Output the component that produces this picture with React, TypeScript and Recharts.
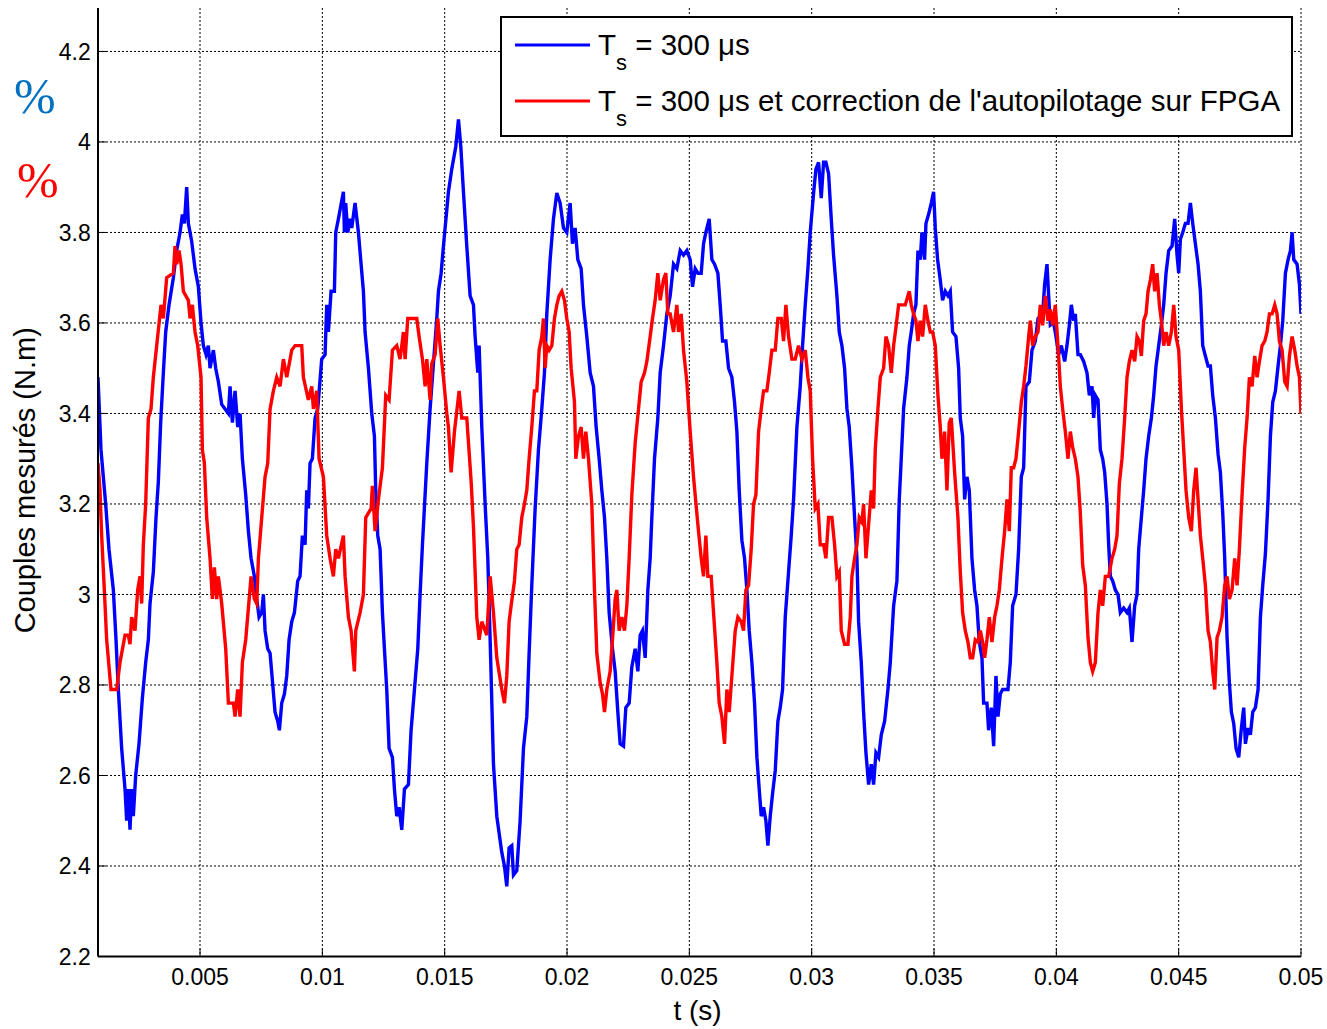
import React from 'react';
import { LineChart, Line, XAxis, YAxis, CartesianGrid, Legend, Label } from 'recharts';

const xTicks = [0.005, 0.01, 0.015, 0.02, 0.025, 0.03, 0.035, 0.04, 0.045, 0.05];
const yTicks = [2.2, 2.4, 2.6, 2.8, 3, 3.2, 3.4, 3.6, 3.8, 4, 4.2];
const xDomain: [number, number] = [0.00083, 0.05];
const yDomain: [number, number] = [2.2, 4.296];

const seriesNames = ['T_s = 300 μs', "T_s = 300 μs et correction de l'autopilotage sur FPGA"];
const seriesColors = ['#0000FF', '#FF0000'];

const xLabel = 't (s)';
const yLabel = 'Couples mesurés (N.m)';

// [time (s), torque (N.m)]
const blueSamples: [number, number][] = [
  [0.00083,3.48],[0.000952,3.32],[0.001143,3.2],[0.001279,3.1],[0.001457,3.01],[0.001566,2.9],[0.001661,2.79],[0.001797,2.66],[0.001934,2.57],[0.002002,2.5],[0.00207,2.57],[0.002138,2.48],[0.002206,2.57],[0.002274,2.51],[0.00237,2.6],[0.002506,2.67],[0.002642,2.77],[0.002779,2.85],[0.002888,2.9],[0.002956,2.98],[0.003092,3.05],[0.003201,3.17],[0.003297,3.25],[0.003392,3.38],[0.003501,3.49],[0.003597,3.58],[0.003733,3.64],[0.00391,3.7],[0.004046,3.76],[0.004183,3.8],[0.004278,3.84],[0.00436,3.82],[0.004455,3.9],[0.004523,3.82],[0.00466,3.78],[0.004796,3.72],[0.004932,3.68],[0.005041,3.6],[0.005137,3.55],[0.005246,3.53],[0.005341,3.55],[0.005409,3.5],[0.005546,3.54],[0.005641,3.5],[0.00575,3.47],[0.005886,3.42],[0.006023,3.41],[0.006159,3.4],[0.006227,3.46],[0.006323,3.38],[0.006432,3.45],[0.006541,3.37],[0.006636,3.4],[0.006731,3.3],[0.006868,3.22],[0.006977,3.14],[0.007086,3.08],[0.007222,3.04],[0.007318,2.99],[0.007413,2.95],[0.007522,2.96],[0.00759,3.0],[0.007658,2.92],[0.007767,2.88],[0.007863,2.87],[0.007958,2.81],[0.008067,2.74],[0.008176,2.72],[0.008244,2.7],[0.00834,2.76],[0.008449,2.78],[0.008544,2.82],[0.00864,2.9],[0.008749,2.94],[0.008858,2.96],
  [0.008993,3.03],[0.009088,3.04],[0.009184,3.13],[0.009293,3.11],[0.009361,3.23],[0.009429,3.19],[0.009497,3.29],[0.009593,3.3],[0.009702,3.39],[0.009811,3.41],[0.009974,3.52],[0.010111,3.53],[0.010179,3.64],[0.010247,3.58],[0.010356,3.67],[0.010492,3.67],[0.010547,3.8],[0.010656,3.83],[0.01086,3.89],[0.010901,3.8],[0.010956,3.865],[0.011038,3.8],[0.011133,3.83],[0.011201,3.81],[0.011337,3.865],[0.011474,3.8],[0.011583,3.73],[0.011678,3.67],[0.011746,3.58],[0.011883,3.5],[0.012019,3.4],[0.012128,3.35],[0.012182,3.23],[0.012264,3.13],[0.01236,3.1],[0.012455,2.96],[0.012537,2.88],[0.012632,2.79],[0.012728,2.66],[0.012864,2.64],[0.012946,2.57],[0.013041,2.51],[0.013137,2.53],[0.013246,2.48],[0.013355,2.57],[0.013518,2.58],[0.013627,2.7],[0.013764,2.79],[0.0139,2.88],[0.013995,3.0],[0.014091,3.11],[0.014268,3.29],[0.014404,3.41],[0.014677,3.61],[0.014745,3.67],[0.014854,3.71],[0.014949,3.77],[0.015018,3.81],[0.015154,3.89],[0.01529,3.94],[0.015454,3.99],[0.015563,4.05],[0.015658,3.99],[0.015767,3.89],[0.015903,3.77],[0.01604,3.66],[0.016176,3.64],[0.016244,3.57],[0.016353,3.49],[0.016408,3.55],[0.016517,3.37],[0.016653,3.2],[0.016762,3.08],[0.016858,2.9],[0.016994,2.625],[0.01713,2.51],
  [0.017334,2.43],[0.017443,2.4],[0.017538,2.355],[0.017633,2.44],[0.017743,2.445],[0.017811,2.38],[0.017947,2.39],[0.018083,2.5],[0.01822,2.66],[0.018356,2.73],[0.018451,2.87],[0.01856,3.02],[0.018697,3.19],[0.018833,3.32],[0.018969,3.41],[0.019078,3.49],[0.019174,3.62],[0.01931,3.74],[0.019446,3.83],[0.019583,3.887],[0.019719,3.865],[0.019855,3.81],[0.019991,3.8],[0.020128,3.865],[0.020223,3.775],[0.020332,3.81],[0.020441,3.74],[0.020578,3.72],[0.020673,3.64],[0.020809,3.57],[0.020946,3.49],[0.021082,3.46],[0.021191,3.37],[0.021314,3.3],[0.021423,3.23],[0.021532,3.17],[0.021627,3.08],[0.021722,2.96],[0.021859,2.88],[0.021968,2.83],[0.022077,2.74],[0.022172,2.67],[0.022309,2.665],[0.022404,2.75],[0.02254,2.76],[0.022649,2.84],[0.022786,2.88],[0.022895,2.83],[0.02299,2.91],[0.023085,2.92],[0.023195,2.86],[0.023304,3.01],[0.023399,3.08],[0.023467,3.17],[0.023576,3.3],[0.023712,3.39],[0.023808,3.49],[0.023944,3.55],[0.02408,3.62],[0.024217,3.66],[0.024353,3.73],[0.024489,3.72],[0.024626,3.76],[0.024762,3.75],[0.024898,3.76],[0.025035,3.74],[0.02513,3.68],[0.025239,3.72],
  [0.025348,3.71],[0.025484,3.71],[0.02558,3.775],[0.025675,3.8],[0.025811,3.83],[0.025921,3.74],[0.02603,3.73],[0.026166,3.71],[0.026261,3.64],[0.026357,3.56],[0.026493,3.56],[0.026602,3.5],[0.026738,3.48],[0.026847,3.425],[0.026943,3.36],[0.027038,3.23],[0.027147,3.12],[0.027256,3.08],[0.027352,3.01],[0.027447,2.92],[0.027556,2.85],[0.027665,2.76],[0.027761,2.64],[0.027856,2.57],[0.027938,2.51],[0.028033,2.53],[0.028129,2.5],[0.02821,2.445],[0.028306,2.51],[0.028401,2.56],[0.02851,2.61],[0.028619,2.72],[0.028715,2.75],[0.02881,2.79],[0.028919,2.95],[0.029055,3.05],[0.029164,3.13],[0.02926,3.21],[0.029396,3.37],[0.029532,3.46],[0.029628,3.55],[0.029737,3.64],[0.029846,3.72],[0.029941,3.8],[0.030078,3.887],[0.030173,3.94],[0.030282,3.955],[0.030391,3.876],[0.030487,3.955],[0.030582,3.955],[0.030691,3.93],[0.0308,3.83],[0.030895,3.75],[0.031032,3.66],[0.031127,3.58],[0.031236,3.55],[0.031345,3.5],[0.031441,3.41],[0.031536,3.37],[0.031645,3.28],[0.031754,3.17],[0.03185,3.08],[0.031918,2.94],[0.032027,2.85],[0.032122,2.74],[0.032218,2.65],[0.032327,2.58],[0.032436,2.625],[0.032531,2.58],[0.032626,2.65],[0.032736,2.64],[0.032845,2.69],[0.032981,2.72],[0.033117,2.79],[0.033213,2.85],[0.033349,2.975],
  [0.033484,3.03],[0.03358,3.21],[0.033661,3.3],[0.033757,3.41],[0.033893,3.48],[0.033988,3.55],[0.03407,3.58],[0.034166,3.62],[0.034261,3.64],[0.034343,3.76],[0.034438,3.74],[0.034506,3.8],[0.034615,3.74],[0.03467,3.82],[0.034779,3.84],[0.034888,3.865],[0.034983,3.89],[0.035052,3.81],[0.035147,3.74],[0.035256,3.695],[0.035351,3.65],[0.035461,3.67],[0.03557,3.66],[0.035665,3.67],[0.03576,3.58],[0.035897,3.57],[0.036006,3.5],[0.036074,3.39],[0.036169,3.35],[0.036251,3.21],[0.036346,3.26],[0.036442,3.23],[0.036551,3.08],[0.03666,3.01],[0.036755,2.975],[0.036851,2.895],[0.03696,2.86],[0.037028,2.76],[0.037164,2.76],[0.037232,2.7],[0.037341,2.75],[0.037437,2.665],[0.037532,2.82],[0.037614,2.73],[0.037709,2.78],[0.037805,2.79],[0.038023,2.79],[0.038118,2.85],[0.038214,2.975],[0.03835,3.0],[0.038459,3.1],[0.038568,3.26],[0.038664,3.28],[0.038759,3.46],[0.038895,3.47],[0.039004,3.54],[0.039141,3.56],[0.03925,3.61],[0.03944,3.62],[0.039522,3.685],[0.039618,3.73],[0.039686,3.66],[0.039754,3.595],[0.03989,3.6],[0.039986,3.57],[0.040095,3.53],[0.040204,3.55],[0.04034,3.515],[0.040435,3.55],[0.040531,3.595],[0.040613,3.64],[0.040708,3.605],[0.040776,3.62],[0.040885,3.53],[0.040981,3.53],[0.041117,3.515],[0.041253,3.49],[0.041349,3.44],[0.041458,3.46],[0.041526,3.39],[0.041594,3.44],
  [0.041703,3.43],[0.041798,3.32],[0.041894,3.3],[0.041976,3.27],[0.042071,3.2],[0.042139,3.11],[0.042207,3.04],[0.042303,3.03],[0.042412,3.01],[0.042521,3.0],[0.042616,2.96],[0.042753,2.97],[0.042889,2.96],[0.042984,2.97],[0.043093,2.895],[0.043202,2.975],[0.043298,3.0],[0.043366,3.1],[0.043475,3.17],[0.04357,3.23],[0.043666,3.3],[0.043775,3.35],[0.043884,3.39],[0.043979,3.44],[0.044075,3.505],[0.044184,3.55],[0.044293,3.595],[0.044388,3.64],[0.044484,3.71],[0.044593,3.76],[0.044729,3.77],[0.044838,3.83],[0.044933,3.75],[0.045002,3.71],[0.04507,3.785],[0.045165,3.8],[0.045274,3.82],[0.045383,3.82],[0.045479,3.865],[0.045574,3.82],[0.045683,3.775],[0.045792,3.73],[0.045887,3.67],[0.045983,3.55],[0.046092,3.527],[0.046201,3.505],[0.046296,3.505],[0.046392,3.44],[0.046501,3.39],[0.04661,3.31],[0.046705,3.27],[0.046801,3.18],[0.046882,3.08],[0.046978,2.905],[0.047073,2.805],[0.047155,2.74],[0.04725,2.715],[0.047346,2.66],[0.047455,2.64],[0.047564,2.705],[0.047659,2.75],[0.047728,2.67],[0.047837,2.705],[0.047932,2.69],[0.048027,2.74],[0.048136,2.75],[0.048245,2.79],[0.048341,2.95],[0.048436,3.02],[0.048545,3.09],[0.048654,3.21],[0.04875,3.35],[0.048845,3.425],[0.048954,3.45],[0.049063,3.505],[0.049159,3.55],[0.049254,3.605],[0.049363,3.71],[0.049472,3.74],[0.049568,3.76],[0.049636,3.8],[0.049704,3.74],[0.04984,3.73],[0.049936,3.685],[0.05,3.62],
];

const redSamples: [number, number][] = [
  [0.00083,3.29],[0.000911,3.23],[0.00098,3.13],[0.001089,3.01],[0.001184,2.9],[0.001361,2.79],[0.001593,2.79],[0.001729,2.85],[0.001934,2.91],[0.00207,2.91],[0.002138,2.89],[0.002206,2.95],[0.002343,2.92],[0.002452,3.01],[0.002547,3.04],[0.002615,2.98],[0.002683,3.11],[0.002779,3.2],[0.002888,3.39],[0.002997,3.41],[0.003092,3.48],[0.003229,3.55],[0.003406,3.64],[0.003501,3.61],[0.003637,3.7],[0.00391,3.71],[0.003978,3.77],[0.004046,3.73],[0.004142,3.76],[0.004224,3.73],[0.004319,3.67],[0.004523,3.65],[0.004592,3.61],[0.004687,3.64],[0.004796,3.58],[0.004905,3.55],[0.005041,3.48],[0.005096,3.32],[0.005178,3.29],[0.005273,3.17],[0.005409,3.08],[0.005505,2.99],[0.005587,3.06],[0.005682,2.99],[0.00575,3.04],[0.005886,2.98],[0.00605,2.88],[0.006159,2.76],[0.006363,2.76],[0.006432,2.73],[0.006541,2.79],[0.006636,2.73],[0.006731,2.85],[0.006868,2.9],[0.006977,2.97],[0.007086,3.04],[0.007222,2.99],[0.007318,2.98],[0.007386,3.08],[0.007522,3.17],[0.007658,3.26],[0.007767,3.29],[0.007863,3.41],[0.007999,3.45],[0.008135,3.48],[0.008272,3.46],[0.008408,3.52],[0.008544,3.48],[0.008749,3.54],[0.008885,3.55],
  [0.00902,3.55],[0.009157,3.55],[0.009225,3.48],[0.009429,3.43],[0.009566,3.46],[0.009634,3.41],[0.00977,3.45],[0.009865,3.3],[0.010043,3.26],[0.010179,3.13],[0.010315,3.08],[0.010451,3.04],[0.010547,3.1],[0.010656,3.08],[0.01086,3.13],[0.010929,3.04],[0.011065,2.95],[0.011174,2.92],[0.01131,2.83],[0.011365,2.92],[0.011542,2.96],[0.011678,3.0],[0.011774,3.17],[0.011992,3.19],[0.012046,3.24],[0.012155,3.14],[0.012292,3.21],[0.012455,3.28],[0.012591,3.44],[0.012728,3.43],[0.012864,3.54],[0.013041,3.55],[0.013177,3.52],[0.013246,3.55],[0.013314,3.58],[0.013382,3.52],[0.013491,3.61],[0.013859,3.61],[0.013954,3.57],[0.014091,3.52],[0.0142,3.46],[0.014268,3.52],[0.014404,3.43],[0.014472,3.51],[0.014609,3.53],[0.014718,3.61],[0.014813,3.55],[0.014949,3.48],[0.015086,3.4],[0.015154,3.37],[0.015263,3.27],[0.015399,3.36],[0.01559,3.45],[0.015699,3.39],[0.015903,3.39],[0.016081,3.25],[0.016176,3.15],[0.016312,2.95],[0.016408,2.9],[0.016517,2.94],[0.016721,2.91],[0.016858,3.04],[0.016994,2.96],[0.01713,2.86],
  [0.017334,2.79],[0.017443,2.76],[0.017538,2.82],[0.017633,2.94],[0.017715,2.975],[0.017852,3.03],[0.017947,3.1],[0.018042,3.11],[0.018151,3.17],[0.01826,3.2],[0.018356,3.23],[0.018451,3.3],[0.01856,3.37],[0.018669,3.45],[0.018765,3.45],[0.01886,3.54],[0.018969,3.57],[0.019037,3.61],[0.019106,3.5],[0.019174,3.55],[0.019269,3.54],[0.019378,3.55],[0.019487,3.61],[0.019583,3.64],[0.019678,3.66],[0.019787,3.67],[0.019896,3.65],[0.019991,3.61],[0.020087,3.58],[0.020169,3.5],[0.020305,3.425],[0.020359,3.3],[0.020469,3.35],[0.020578,3.37],[0.020673,3.3],[0.020768,3.36],[0.020877,3.3],[0.021014,3.2],[0.021123,3.01],[0.021218,2.87],[0.021354,2.805],[0.02145,2.78],[0.021532,2.74],[0.021627,2.79],[0.021763,2.83],[0.021859,2.9],[0.021968,2.99],[0.022036,3.01],[0.022131,2.92],[0.02224,2.95],[0.022349,2.92],[0.022445,2.975],[0.02254,3.08],[0.022649,3.22],[0.022786,3.335],[0.022922,3.41],[0.023031,3.47],[0.023167,3.49],[0.023263,3.515],[0.023399,3.57],[0.023494,3.61],[0.023603,3.65],[0.023712,3.71],[0.023808,3.65],[0.023944,3.696],[0.02404,3.71],[0.024121,3.62],[0.024217,3.62],[0.024353,3.58],[0.024489,3.64],[0.024558,3.58],[0.024667,3.62],[0.024762,3.54],[0.024898,3.47],[0.025035,3.36],[0.025171,3.26],
  [0.025348,3.155],[0.025484,3.08],[0.02558,3.04],[0.025675,3.13],[0.025757,3.04],[0.025893,3.04],[0.025989,2.96],[0.026125,2.85],[0.02622,2.76],[0.026329,2.73],[0.026438,2.67],[0.026534,2.79],[0.026629,2.74],[0.026738,2.82],[0.026875,2.92],[0.026984,2.95],[0.02712,2.94],[0.027215,2.92],[0.027311,3.01],[0.02742,3.02],[0.027529,3.1],[0.027624,3.2],[0.02772,3.22],[0.027829,3.36],[0.027938,3.41],[0.028033,3.45],[0.028169,3.45],[0.028265,3.49],[0.028374,3.54],[0.02851,3.54],[0.028619,3.61],[0.028756,3.61],[0.028851,3.56],[0.028946,3.64],[0.029055,3.57],[0.029192,3.52],[0.029328,3.52],[0.029464,3.55],[0.029601,3.52],[0.029737,3.54],[0.029846,3.48],[0.029941,3.45],[0.030037,3.3],[0.030146,3.19],[0.030255,3.2],[0.03035,3.11],[0.030487,3.11],[0.030582,3.08],[0.030691,3.17],[0.030827,3.17],[0.030936,3.11],[0.031032,3.04],[0.031127,3.05],[0.031209,2.92],[0.031345,2.89],[0.031482,2.89],[0.031577,2.95],[0.031645,3.04],[0.031754,3.08],[0.03185,3.11],[0.031945,3.17],[0.032054,3.16],[0.032122,3.2],[0.032218,3.08],[0.032327,3.155],[0.032436,3.23],[0.032531,3.19],[0.032599,3.32],[0.032708,3.41],[0.032804,3.48],[0.03294,3.5],[0.033035,3.57],[0.033144,3.55],[0.033253,3.49],[0.033349,3.55],[0.033444,3.59],[0.033553,3.64],
  [0.033716,3.64],[0.033825,3.64],[0.033988,3.67],[0.03407,3.64],[0.034166,3.62],[0.034261,3.605],[0.034343,3.56],[0.034438,3.605],[0.034534,3.57],[0.034643,3.64],[0.034752,3.605],[0.034847,3.58],[0.034943,3.58],[0.035052,3.55],[0.035161,3.44],[0.035256,3.37],[0.035324,3.3],[0.035433,3.36],[0.035529,3.23],[0.035624,3.38],[0.035706,3.39],[0.035842,3.27],[0.035978,3.17],[0.036074,3.05],[0.036169,2.96],[0.036278,2.92],[0.036387,2.895],[0.036483,2.86],[0.036578,2.86],[0.036687,2.9],[0.036796,2.895],[0.036892,2.92],[0.036987,2.895],[0.037069,2.86],[0.037164,2.9],[0.03726,2.95],[0.037369,2.895],[0.037478,2.95],[0.037573,2.975],[0.037669,3.01],[0.037778,3.08],[0.037887,3.14],[0.037982,3.21],[0.038077,3.14],[0.038159,3.28],[0.038255,3.28],[0.03835,3.3],[0.038459,3.36],[0.038568,3.425],[0.038664,3.46],[0.038759,3.505],[0.038868,3.57],[0.038936,3.605],[0.039032,3.55],[0.039141,3.57],[0.03925,3.58],[0.039345,3.64],[0.03944,3.595],[0.03955,3.66],[0.039659,3.605],[0.039754,3.63],[0.039849,3.595],[0.039958,3.64],[0.040067,3.55],[0.040163,3.46],[0.040258,3.41],[0.040367,3.36],[0.040476,3.3],[0.040572,3.36],[0.040667,3.325],[0.040776,3.3],[0.040885,3.26],[0.040981,3.18],[0.041076,3.065],[0.041185,3.02],[0.041294,2.905],[0.04139,2.85],[0.041485,2.83],[0.041594,2.85],
  [0.041703,2.96],[0.041798,3.01],[0.041894,2.975],[0.042003,3.04],[0.042139,3.04],[0.042276,3.08],[0.042385,3.1],[0.04248,3.13],[0.042575,3.245],[0.042684,3.3],[0.042793,3.39],[0.042889,3.48],[0.042984,3.515],[0.043093,3.54],[0.043202,3.515],[0.043298,3.57],[0.043393,3.56],[0.043475,3.527],[0.04357,3.605],[0.043666,3.62],[0.043748,3.67],[0.043843,3.695],[0.043938,3.73],[0.04402,3.67],[0.044116,3.71],[0.044211,3.64],[0.044293,3.605],[0.044388,3.55],[0.044484,3.58],[0.044593,3.55],[0.044702,3.58],[0.044797,3.64],[0.044892,3.57],[0.045002,3.54],[0.045111,3.41],[0.045206,3.32],[0.045301,3.23],[0.04541,3.17],[0.045519,3.14],[0.045615,3.23],[0.04571,3.28],[0.045792,3.21],[0.045887,3.13],[0.045983,3.08],[0.046092,3.02],[0.046201,2.92],[0.046296,2.895],[0.046392,2.83],[0.046474,2.79],[0.046569,2.905],[0.046664,2.92],[0.046773,2.95],[0.046882,3.02],[0.046978,3.04],[0.047073,2.99],[0.047182,3.01],[0.047291,3.08],[0.047387,3.02],[0.047482,3.1],[0.047591,3.22],[0.0477,3.325],[0.047796,3.39],[0.047891,3.48],[0.048,3.46],[0.048109,3.527],[0.048205,3.48],[0.0483,3.515],[0.048409,3.55],[0.048518,3.56],[0.048613,3.58],[0.048709,3.62],[0.048818,3.62],[0.048927,3.64],[0.049022,3.62],[0.049118,3.56],[0.049227,3.54],[0.049336,3.47],[0.049431,3.46],[0.049527,3.527],[0.049636,3.57],[0.049745,3.54],[0.04984,3.505],[0.049936,3.48],[0.05,3.4],
];

const blueRows = blueSamples.map(([t, c]) => ({ t, c }));
const redRows = redSamples.map(([t, c]) => ({ t, c }));

const FONT = "'Liberation Sans', Arial, sans-serif";
const fmt = (v: number) => String(parseFloat(v.toFixed(4)));

const LegendBox = (props: any) => {
  const payload: any[] = props.payload || [];
  return (
    <svg width={793} height={121} style={{ display: 'block' }}>
      <rect x={1} y={1} width={791} height={119} fill="#fff" stroke="#000" strokeWidth={2} />
      {payload.map((p, i) => {
        const y = 29 + i * 56;
        const label = String(p.value);
        const m = label.match(/^(\w)_(\w)(.*)$/);
        const base = m ? m[1] : label;
        const sub = m ? m[2] : '';
        const rest = m ? m[3] : '';
        return (
          <g key={i}>
            <line x1={15} x2={90} y1={y} y2={y} stroke={p.color} strokeWidth={3} />
            <text x={98} y={y + 10} fontSize={29.5} fontFamily={FONT} fill="#000" style={{ whiteSpace: 'pre' }}>
              {base}
              <tspan dy={15} fontSize={22}>{sub}</tspan>
              <tspan dy={-15} fontSize={29.5}>{rest}</tspan>
            </text>
          </g>
        );
      })}
    </svg>
  );
};

const YLabelContent = (props: any) => {
  const vb = props.viewBox || { x: 0, y: 8, width: 98, height: 948 };
  const cx = vb.x + 35;
  const cy = vb.y + vb.height / 2 - 2;
  return (
    <text x={cx} y={cy} transform={`rotate(-90, ${cx}, ${cy})`} textAnchor="middle" fontSize={29} fontFamily={FONT} fill="#000">
      {yLabel}
    </text>
  );
};

const XLabelContent = (props: any) => {
  const vb = props.viewBox || { x: 98, y: 956, width: 1203, height: 50 };
  const cx = vb.x + vb.width / 2 - 2;
  const cy = vb.y + 63.5;
  return (
    <text x={cx} y={cy} textAnchor="middle" fontSize={28} fontFamily={FONT} fill="#000">
      {xLabel}
    </text>
  );
};

export default function App() {
  const tickStyle = { fill: '#000', fontSize: 23, fontFamily: FONT };
  const frame = { stroke: '#000', strokeWidth: 2 };
  return (
    <div style={{ position: 'absolute', left: 0, top: 0, width: 1327, height: 1029, background: '#fff' }}>
      <LineChart width={1327} height={1029} margin={{ top: 8, right: 26, bottom: 22.5, left: 0 }}>
        <CartesianGrid
          stroke="#000"
          strokeDasharray="2 2"
          strokeWidth={1}
          horizontalValues={yTicks}
          verticalValues={xTicks}
        />
        <XAxis
          type="number"
          dataKey="t"
          domain={xDomain}
          ticks={xTicks}
          interval={0}
          allowDataOverflow
          height={50}
          tick={tickStyle}
          tickFormatter={fmt}
          tickSize={-8}
          tickMargin={20.5}
          tickLine={{ stroke: '#000', strokeWidth: 1 }}
          axisLine={frame}
        >
          <Label content={<XLabelContent />} />
        </XAxis>
        <XAxis
          xAxisId="top"
          orientation="top"
          type="number"
          domain={xDomain}
          ticks={xTicks}
          interval={0}
          allowDataOverflow
          height={0}
          tick={false}
          tickSize={-8}
          tickLine={{ stroke: '#000', strokeWidth: 1 }}
          axisLine={frame}
        />
        <YAxis
          type="number"
          domain={yDomain}
          ticks={yTicks}
          interval={0}
          allowDataOverflow
          width={98}
          tick={tickStyle}
          tickFormatter={fmt}
          tickSize={-8}
          tickMargin={15.3}
          tickLine={{ stroke: '#000', strokeWidth: 1 }}
          axisLine={frame}
        >
          <Label content={<YLabelContent />} />
        </YAxis>
        <YAxis
          yAxisId="right"
          orientation="right"
          type="number"
          domain={yDomain}
          ticks={yTicks}
          interval={0}
          allowDataOverflow
          width={0}
          tick={false}
          tickSize={-8}
          tickLine={{ stroke: '#000', strokeWidth: 1 }}
          axisLine={frame}
        />
        <Line
          data={blueRows}
          dataKey="c"
          name={seriesNames[0]}
          type="linear"
          stroke={seriesColors[0]}
          strokeWidth={3.4}
          dot={false}
          activeDot={false}
          isAnimationActive={false}
        />
        <Line
          data={redRows}
          dataKey="c"
          name={seriesNames[1]}
          type="linear"
          stroke={seriesColors[1]}
          strokeWidth={3.4}
          dot={false}
          activeDot={false}
          isAnimationActive={false}
        />
        <Legend
          content={<LegendBox />}
          layout="horizontal"
          verticalAlign="middle"
          align="center"
          wrapperStyle={{ position: 'absolute', left: 500, top: 16, width: 793, height: 121 }}
        />
      </LineChart>
      <div style={{ position: 'absolute', left: 14, top: 71, fontSize: 50, lineHeight: '50px', fontFamily: "'Liberation Serif', 'Times New Roman', serif", color: '#0070C0' }}>%</div>
      <div style={{ position: 'absolute', left: 17, top: 155, fontSize: 50, lineHeight: '50px', fontFamily: "'Liberation Serif', 'Times New Roman', serif", color: '#FF0000' }}>%</div>
    </div>
  );
}
